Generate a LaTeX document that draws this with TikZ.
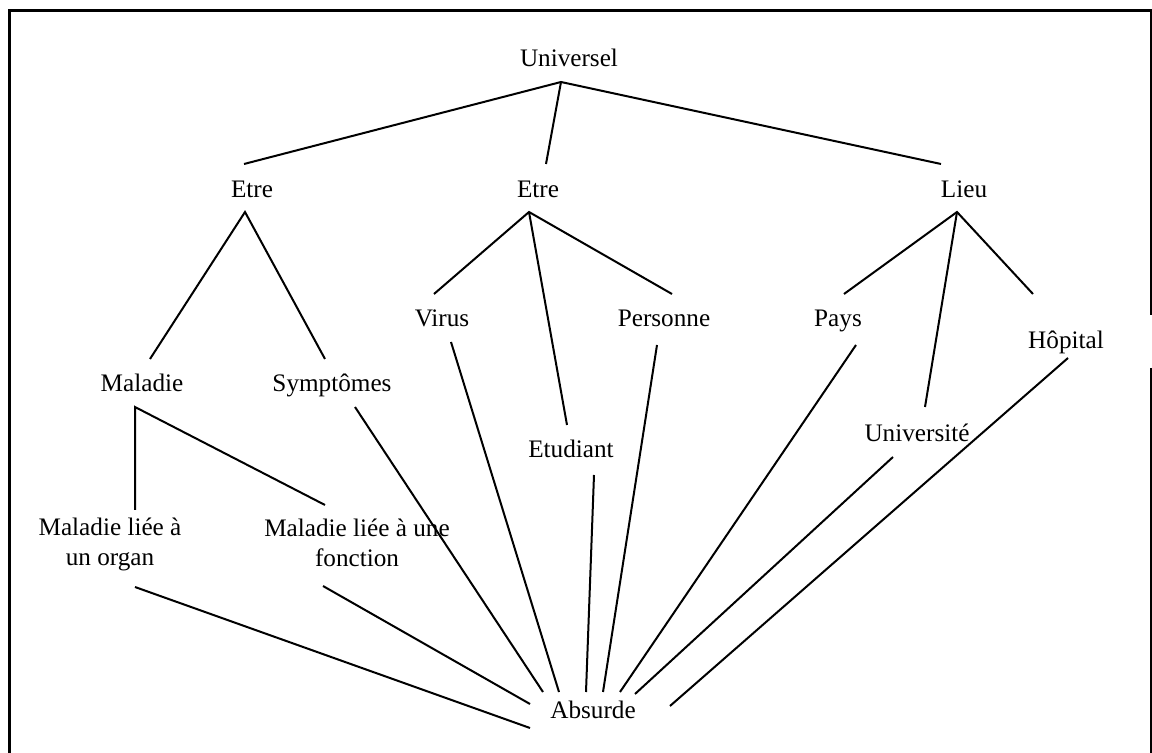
\documentclass[tikz,border=0pt]{standalone}
\usepackage{fontspec}
\setmainfont{Liberation Serif}
\begin{document}
\begin{tikzpicture}[x=0.5pt,y=-0.5pt,
  concept/.style={anchor=base,inner sep=0pt,font=\fontsize{12.6}{15}\selectfont},
  link/.style={line width=1pt}]
\useasboundingbox (0,0) rectangle (1152,753);
% frame around the hierarchy
\draw[line width=1.6pt] (8,10.5) -- (1152,10.5);
\draw[line width=1.8pt] (9.5,9.7) -- (9.5,753);
\draw[line width=0.6pt] (1151,10) -- (1151,315);
\draw[line width=0.6pt] (1151,368) -- (1151,753);

% concepts
\node[concept] (universel) at (569,67) {Universel};
\node[concept] (etreA) at (252,198) {Etre};
\node[concept] (etreB) at (538,198) {Etre};
\node[concept] (lieu) at (964,198) {Lieu};
\node[concept] (virus) at (442,327) {Virus};
\node[concept] (personne) at (664,327) {Personne};
\node[concept] (pays) at (838,327) {Pays};
\node[concept] (hopital) at (1066,349) {Hôpital};
\node[concept] (maladie) at (142,392) {Maladie};
\node[concept] (symptomes) at (332,392) {Symptômes};
\node[concept] (universite) at (917,442) {Université};
\node[concept] (etudiant) at (571,458) {Etudiant};
\node[concept] (organ) at (110,536) {\begin{tabular}[t]{@{}c@{}}Maladie liée à\\un organ\end{tabular}};
\node[concept] (fonction) at (357,537) {\begin{tabular}[t]{@{}c@{}}Maladie liée à une\\fonction\end{tabular}};
\node[concept] (absurde) at (593,718) {Absurde};

% attachment points of the links
\coordinate (universel-s) at (561,82);
\coordinate (etreA-n) at (244,164);
\coordinate (etreB-n) at (546,164);
\coordinate (lieu-n) at (941,164);
\coordinate (etreA-s) at (245,212);
\coordinate (etreB-s) at (529,212);
\coordinate (lieu-s) at (957,212);
\coordinate (maladie-n) at (150,359);
\coordinate (symptomes-n) at (325,359);
\coordinate (virus-n) at (434,294);
\coordinate (etudiant-n) at (567,425);
\coordinate (personne-n) at (672,294);
\coordinate (pays-n) at (844,294);
\coordinate (universite-n) at (925,407);
\coordinate (hopital-n) at (1033,294);
\coordinate (maladie-s) at (135,407);
\coordinate (organ-n) at (135,510);
\coordinate (fonction-n) at (325,505);
\coordinate (symptomes-s) at (355,407);
\coordinate (virus-s) at (451,342);
\coordinate (personne-s) at (657,345);
\coordinate (pays-s) at (856,345);
\coordinate (etudiant-s) at (594,475);
\coordinate (universite-s) at (893,457);
\coordinate (hopital-s) at (1068,358);
\coordinate (organ-s) at (135,587);
\coordinate (fonction-s) at (323,586);
\coordinate (absurde-a) at (530,728);
\coordinate (absurde-b) at (530,704);
\coordinate (absurde-c) at (543,692);
\coordinate (absurde-d) at (559,692);
\coordinate (absurde-e) at (586,692);
\coordinate (absurde-f) at (603,692);
\coordinate (absurde-g) at (620,692);
\coordinate (absurde-h) at (635,694);
\coordinate (absurde-i) at (670,706);

% generalisation links
\draw[link] (etreA-n) -- (universel-s) -- (lieu-n);
\draw[link] (universel-s) -- (etreB-n);
\draw[link] (maladie-n) -- (etreA-s) -- (symptomes-n);
\draw[link] (virus-n) -- (etreB-s) -- (personne-n);
\draw[link] (etreB-s) -- (etudiant-n);
\draw[link] (pays-n) -- (lieu-s) -- (hopital-n);
\draw[link] (lieu-s) -- (universite-n);
\draw[link] (organ-n) -- (maladie-s) -- (fonction-n);

% links down to the bottom concept
\draw[link] (organ-s) -- (absurde-a);
\draw[link] (fonction-s) -- (absurde-b);
\draw[link] (symptomes-s) -- (absurde-c);
\draw[link] (virus-s) -- (absurde-d);
\draw[link] (etudiant-s) -- (absurde-e);
\draw[link] (personne-s) -- (absurde-f);
\draw[link] (pays-s) -- (absurde-g);
\draw[link] (universite-s) -- (absurde-h);
\draw[link] (hopital-s) -- (absurde-i);
\end{tikzpicture}
\end{document}
